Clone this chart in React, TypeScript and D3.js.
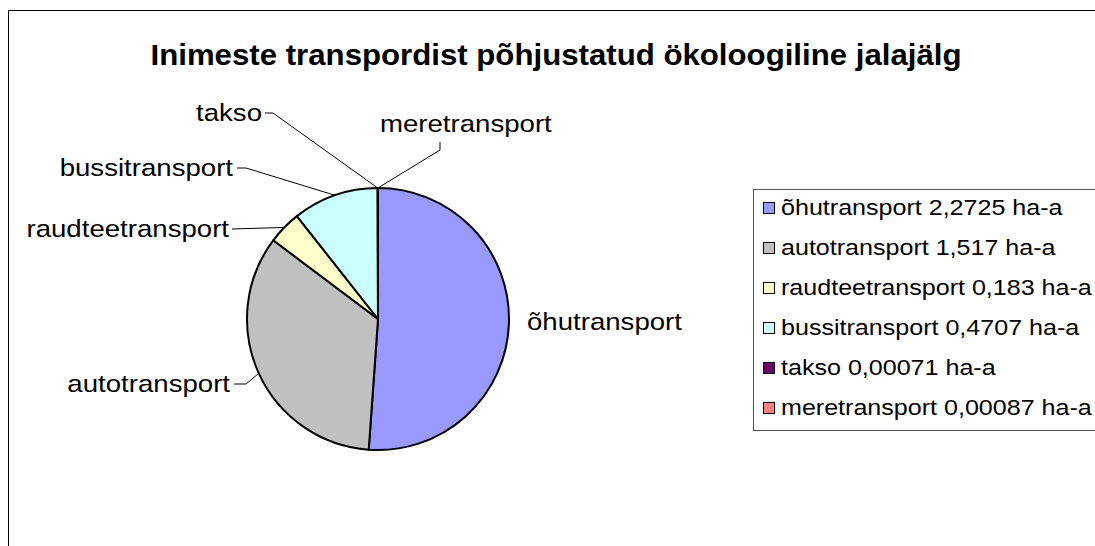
import React from "react";
import * as d3 from "d3";

const categories = ["õhutransport", "autotransport", "raudteetransport", "bussitransport", "takso", "meretransport"];
const values = [2.2725, 1.517, 0.183, 0.4707, 0.00071, 0.00087];
const valueLabels = ["2,2725", "1,517", "0,183", "0,4707", "0,00071", "0,00087"];
const unit = "ha-a";
const colors = ["#9999FF", "#C0C0C0", "#FFFFCC", "#CCFFFF", "#660066", "#FF8080"];
const title = "Inimeste transpordist põhjustatud ökoloogiline jalajälg";

// label layout (hand-placed in the original chart): text anchor point, alignment, leader-line bends
const labelLayout = [
  { x: 527, y: 322, anchor: "start", elbow: null as null | [number, number], stub: null as null | [number, number] },
  { x: 230, y: 384, anchor: "end", elbow: [246, 384], stub: [234, 384] },
  { x: 229, y: 229, anchor: "end", elbow: null, stub: [232, 229] },
  { x: 233, y: 168, anchor: "end", elbow: [246, 168], stub: [237, 168] },
  { x: 262, y: 113, anchor: "end", elbow: [273, 113], stub: [265, 113] },
  { x: 380, y: 124, anchor: "start", elbow: [440, 150], stub: [440, 142] },
];

export default function App() {
  const W = 1095, H = 546;
  const cx = 378, cy = 319, r = 131;
  const pie = d3.pie<number>().sort(null).value((d) => d);
  const arcs = pie(values);
  const arc = d3.arc<d3.PieArcDatum<number>>().innerRadius(0).outerRadius(r);
  const fontLabel = 24, sxLabel = 1.15;
  const fontLegend = 22, sxLegend = 1.14;
  const border = d3.path();
  border.moveTo(8.5, H + 5);
  border.lineTo(8.5, 10.5);
  border.lineTo(W + 5, 10.5);

  return (
    <div style={{ position: "fixed", left: 0, top: 0, width: W, height: H, overflow: "hidden", background: "#fff" }}>
      <svg width={W} height={H} style={{ display: "block" }} fontFamily="'Liberation Sans', Arial, sans-serif">
        <path d={border.toString()} fill="none" stroke="#000" strokeWidth={1} />
        <text transform={`translate(556,65) scale(1.04,1)`} textAnchor="middle" fontSize={30} fontWeight="bold" fill="#000">{title}</text>
        <g transform={`translate(${cx},${cy})`}>
          {arcs.map((a, i) => (
            <path key={i} d={arc(a) || ""} fill={colors[i]} stroke="#000" strokeWidth={2} strokeLinejoin="round" />
          ))}
        </g>
        {arcs.map((a, i) => {
          const L = labelLayout[i];
          const mid = (a.startAngle + a.endAngle) / 2;
          const ex = cx + r * Math.sin(mid);
          const ey = cy - r * Math.cos(mid);
          const pts: [number, number][] = [];
          if (L.stub) pts.push(L.stub);
          if (L.elbow) pts.push(L.elbow);
          if (pts.length) pts.push([ex, ey]);
          const line = d3.line();
          return (
            <g key={i}>
              {pts.length > 0 && <path d={line(pts) || ""} fill="none" stroke="#000" strokeWidth={1} />}
              <text transform={`translate(${L.x},${L.y}) scale(${sxLabel},1)`} textAnchor={L.anchor} dominantBaseline="central" fontSize={fontLabel} fill="#000">
                {categories[i]}
              </text>
            </g>
          );
        })}
        <rect x={753.5} y={189.5} width={400} height={241} fill="#fff" stroke="#555" strokeWidth={1} />
        {categories.map((c, i) => {
          const y = 208 + i * 40;
          return (
            <g key={c}>
              <rect x={763.5} y={y - 5.5} width={11} height={11} fill={colors[i]} stroke="#000" strokeWidth={1} />
              <text transform={`translate(781,${y}) scale(${sxLegend},1)`} dominantBaseline="central" fontSize={fontLegend} fill="#000">
                {`${c} ${valueLabels[i]} ${unit}`}
              </text>
            </g>
          );
        })}
      </svg>
    </div>
  );
}
